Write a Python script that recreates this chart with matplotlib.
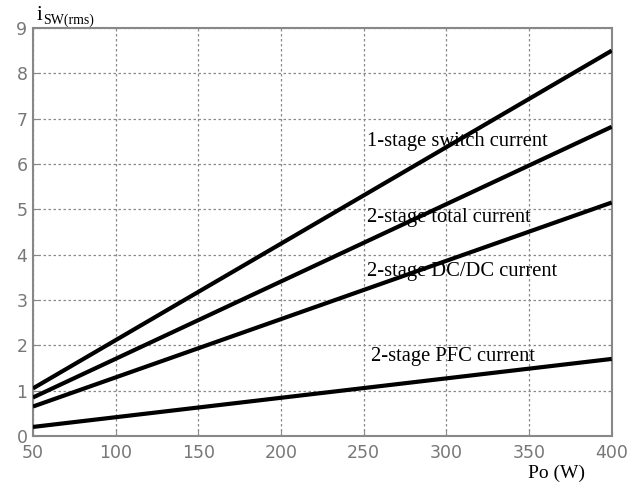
import matplotlib
matplotlib.use("Agg")
import matplotlib.pyplot as plt

po = [50, 400]
one_stage_switch = [1.05, 8.5]
two_stage_total = [0.85, 6.82]
two_stage_dcdc = [0.65, 5.15]
two_stage_pfc = [0.2, 1.7]

labels = ["1-stage switch current", "2-stage total current",
          "2-stage DC/DC current", "2-stage PFC current"]
label_pos = [(252, 6.49), (252, 4.81), (252, 3.62), (254.5, 1.76)]

xticks = [50, 100, 150, 200, 250, 300, 350, 400]
yticks = [0, 1, 2, 3, 4, 5, 6, 7, 8, 9]

fig = plt.figure(figsize=(6.39, 4.9), dpi=100)
ax = fig.add_axes([0.0516, 0.1102, 0.9057, 0.8327])

for ys in [one_stage_switch, two_stage_total, two_stage_dcdc, two_stage_pfc]:
    ax.plot(po, ys, color="black", linewidth=3, solid_capstyle="butt", zorder=3)

for txt, (x, y) in zip(labels, label_pos):
    ax.text(x, y, txt, family="Liberation Serif", fontsize=14.8, va="center", ha="left", zorder=4)

ax.set_xlim(50, 400)
ax.set_ylim(0, 9)
ax.set_xticks(xticks)
ax.set_yticks(yticks)
ax.grid(True, color="#8a8a8a", linestyle=(0, (2, 2)), linewidth=0.9)
for s in ax.spines.values():
    s.set_color("#888888")
    s.set_linewidth(1.5)
ax.tick_params(colors="#888888", labelcolor="#777777", labelsize=12.5, length=4, direction="in")
ax.tick_params(axis="x", pad=6)
ax.tick_params(axis="y", pad=4)

fig.text(0.057, 0.959, "i", family="Liberation Serif", fontsize=15, ha="left", va="baseline")
fig.text(0.068, 0.951, "SW(rms)", family="Liberation Serif", fontsize=10, ha="left", va="baseline")
fig.text(0.871, 0.033, "Po (W)", family="Liberation Serif", fontsize=14, ha="center", va="center")

fig.savefig("out.png", dpi=100)
